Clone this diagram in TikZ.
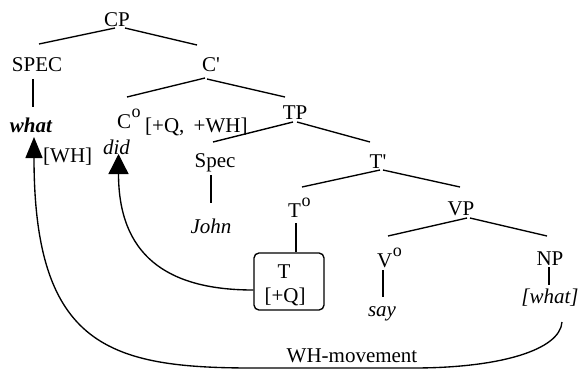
\documentclass[tikz,border=0pt]{standalone}
\usepackage{fontspec}
\setmainfont{Liberation Serif}
\usetikzlibrary{arrows.meta}
% small raised "o" for the bar-level zero (C^o, T^o, V^o)
\newcommand\supo{\kern0.5pt\raisebox{10.5pt}{\fontsize{18}{18}\selectfont o}}
\begin{document}
\begin{tikzpicture}[x=1pt,y=-1pt,
  lbl/.style={inner sep=0pt, anchor=base, font=\fontsize{21}{24}\selectfont},
  lblw/.style={lbl, anchor=base west},
  it/.style={font=\fontsize{21}{24}\selectfont\itshape},
  bfit/.style={font=\fontsize{21}{24}\selectfont\bfseries\itshape},
  edge/.style={line width=1.35pt},
  tbox/.style={draw, line width=1.35pt, rounded corners=5pt, inner sep=0pt,
    minimum width=70pt, minimum height=57pt},
  movebig/.style={line width=1.35pt, -{Triangle[length=21pt,width=17pt]}},
  movesmall/.style={line width=1.35pt, -{Triangle[length=20pt,width=20pt]}}]
\useasboundingbox (0,0) rectangle (580,370);

% labels of the tree
\node[lbl] (CP) at (117,26) {CP};
\node[lbl] (SPEC) at (37,71) {SPEC};
\node[lbl] (Cbar) at (211,71) {C\textquotesingle};
\node[lbl,bfit] (what) at (31,132) {what};
\node[lblw] (WHf) at (43,162) {[WH]};
\node[lblw] (Co) at (117,128) {C\supo};
\node[lblw] (CoF) at (145,132) {[+Q,\kern4pt\ +WH]};
\node[lbl,it] (did) at (116.5,154) {did};
\node[lbl] (TP) at (295,119) {TP};
\node[lbl] (Spec) at (215,167) {Spec};
\node[lbl,it] (John) at (211,233) {John};
\node[lbl] (Tbar) at (378,168) {T\textquotesingle};
\node[lblw] (To) at (288,217) {T\supo};
\node[lbl] (VP) at (461,215) {VP};
\node[lblw] (Vo) at (377,267) {V\supo};
\node[lbl] (NP) at (550,265) {NP};
\node[lbl,it] (say) at (382,316) {say};
\node[lbl,it] (whatB) at (550,303) {[what]};
\node[lbl] (WH) at (352,362) {WH-movement};

% boxed T head
\node[tbox] (box) at (289,281.5) {};
\node[lbl] (boxT) at (284,278) {T};
\node[lbl] (boxQ) at (285,302) {[+Q]};

% branches
\draw[edge] ([shift={(-2,2)}]CP.base) -- ([shift={(2,-27)}]SPEC.base);
\draw[edge] ([shift={(8,2)}]CP.base) -- ([shift={(-14,-26)}]Cbar.base);
\draw[edge] ([shift={(-4,8)}]SPEC.base) -- ([shift={(2,-25)}]what.base);
\draw[edge] ([shift={(-6,7)}]Cbar.base) -- ([shift={(10,-31)}]Co.base west);
\draw[edge] ([shift={(-4,8)}]Cbar.base) -- ([shift={(-10,-22)}]TP.base);
\draw[edge] ([shift={(-2,3)}]TP.base) -- ([shift={(-2,-25)}]Spec.base);
\draw[edge] ([shift={(2,3)}]TP.base) -- ([shift={(-8,-26)}]Tbar.base);
\draw[edge] ([shift={(-4,8)}]Spec.base) -- ([shift={(0,-30)}]John.base);
\draw[edge] ([shift={(2,2)}]Tbar.base) -- ([shift={(14,-30)}]To.base west);
\draw[edge] ([shift={(5,2)}]Tbar.base) -- ([shift={(-1,-28)}]VP.base);
\draw[edge] ([shift={(8,6)}]To.base west) -- ([shift={(7,0)}]box.north);
\draw[edge] ([shift={(6,3)}]VP.base) -- ([shift={(11,-31)}]Vo.base west);
\draw[edge] ([shift={(9,3)}]VP.base) -- ([shift={(-3,-29)}]NP.base);
\draw[edge] ([shift={(6,3)}]Vo.base west) -- ([shift={(1,-19)}]say.base);
\draw[edge] ([shift={(-1,2)}]NP.base) -- ([shift={(-1,-18)}]whatB.base);

% head movement of T to C
\draw[movesmall] ([yshift=-8.5pt]box.west) .. controls +(-88,0) and +(0,100) .. ([shift={(2,0)}]did.base);

% WH-movement of [what] to SPEC
\draw[movebig] ([shift={(12,19)}]whatB.base) .. controls +(-2,28) and +(87,0) .. ([shift={(61,6)}]WH.base)
  -- ([shift={(-99,6)}]WH.base) .. controls +(-143,0) and +(0,210) .. ([shift={(3,5)}]what.base);
\end{tikzpicture}
\end{document}
